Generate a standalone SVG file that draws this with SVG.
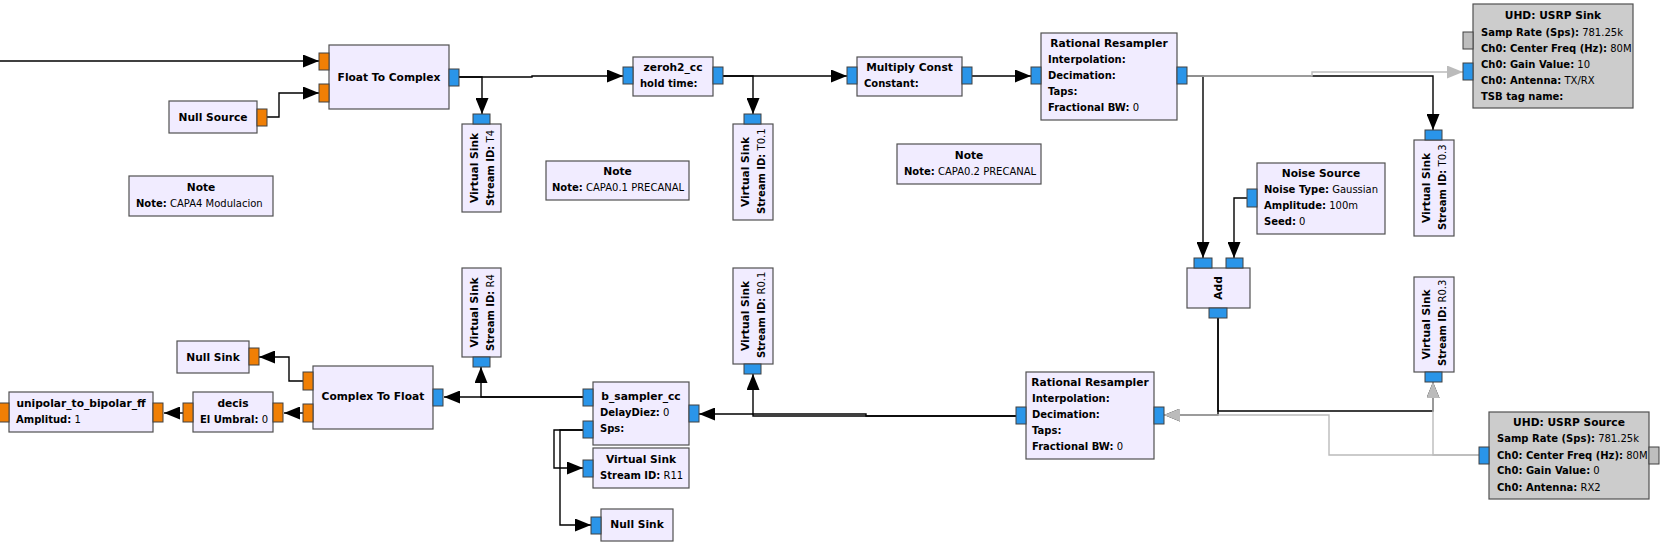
<svg xmlns="http://www.w3.org/2000/svg" width="1673" height="553" viewBox="0 0 1673 553">
<style>
.b{fill:#F1ECFF;stroke:#505050;stroke-width:1.2}
.g{fill:#CCCCCC;stroke:#505050;stroke-width:1.2}
.pc{fill:#2A95E9;stroke:#404040;stroke-width:1}
.pf{fill:#F07F05;stroke:#404040;stroke-width:1}
.pg{fill:#BEBEBE;stroke:#404040;stroke-width:1}
text{font-family:"DejaVu Sans","Liberation Sans",sans-serif;font-size:10px;fill:#000}
.t{font-weight:bold}
.h{font-weight:bold;font-size:10.67px}
.c{text-anchor:middle}
.k{fill:none;stroke:#000;stroke-width:1.4}
.y{fill:none;stroke:#BBBBBB;stroke-width:1.4}
</style>
<defs>
<marker id="ak" markerUnits="userSpaceOnUse" markerWidth="16" markerHeight="13" refX="16" refY="6.5" orient="auto"><path d="M0,0 L16,6.5 L0,13 z" fill="#000"/></marker>
<marker id="ag" markerUnits="userSpaceOnUse" markerWidth="16" markerHeight="13" refX="16" refY="6.5" orient="auto"><path d="M0,0 L16,6.5 L0,13 z" fill="#BBBBBB"/></marker>
</defs>
<rect width="1673" height="553" fill="#fff"/>

<g id="connectors">
<g marker-end="url(#ak)" class="k">
<path d="M0,61 H319"/>
<path d="M267,117 H279 V93 H319"/>
<path d="M459,77 H482 V114"/>
<path d="M459,77 H532 V76 H623"/>
<path d="M723,76 H753 V114"/>
<path d="M723,76 H847"/>
<path d="M972,76 H1031"/>
<path d="M1187,76 H1203 V258"/>
<path d="M1187,76 H1433 V130"/>
<path d="M1247,198 H1234 V258"/>
<path d="M1218,318 V415 H1164"/>
<path d="M1218,318 V411 H1433 V382"/>
<path d="M1016,416 H866 V414 H699"/>
<path d="M1016,416 H753 V374"/>
<path d="M583,397 H444"/>
<path d="M583,397 H481 V367"/>
<path d="M583,430 H554 V468 H583"/>
<path d="M583,430 H560 V525 H591"/>
<path d="M303,381 H289 V357 H259"/>
<path d="M303,413 H284"/>
<path d="M183,413 H164"/>
</g>
<g marker-end="url(#ag)" class="y">
<path d="M1187,76 H1312 V72 H1463"/>
<path d="M1479,455 H1329 V415 H1164"/>
<path d="M1479,455 H1433 V382"/>
</g>
</g>

<g id="float_to_complex">
<rect class="b" x="329" y="45" width="120" height="64"/>
<rect class="pf" x="319" y="53" width="10" height="17"/>
<rect class="pf" x="319" y="84" width="10" height="18"/>
<rect class="pc" x="449" y="69" width="10" height="17"/>
<text class="h c" x="389" y="81">Float To Complex</text>
</g>

<g id="null_source">
<rect class="b" x="169" y="101" width="88" height="32"/>
<rect class="pf" x="257" y="109" width="10" height="17"/>
<text class="h c" x="213" y="121">Null Source</text>
</g>

<g id="vs_t4">
<rect class="b" x="462" y="124" width="39" height="88"/>
<rect class="pc" x="473" y="114" width="17" height="10"/>
<text class="h c" transform="translate(477.5,168) rotate(-90)">Virtual Sink</text>
<text transform="translate(493.5,206) rotate(-90)"><tspan class="t">Stream ID:</tspan> T4</text>
</g>

<g id="note_capa4">
<rect class="b" x="129" y="176" width="144" height="40"/>
<text class="h c" x="201" y="191">Note</text>
<text x="136" y="207"><tspan class="t">Note:</tspan> CAPA4 Modulacion</text>
</g>

<g id="zeroh2_cc">
<rect class="b" x="633" y="57" width="80" height="39"/>
<rect class="pc" x="623" y="67" width="10" height="17"/>
<rect class="pc" x="713" y="67" width="10" height="17"/>
<text class="h c" x="673" y="71">zeroh2_cc</text>
<text class="t" x="640" y="87">hold time:</text>
</g>

<g id="vs_t01">
<rect class="b" x="733" y="124" width="40" height="96"/>
<rect class="pc" x="744" y="114" width="17" height="10"/>
<text class="h c" transform="translate(748.5,172) rotate(-90)">Virtual Sink</text>
<text transform="translate(764.5,214) rotate(-90)"><tspan class="t">Stream ID:</tspan> T0.1</text>
</g>

<g id="note_capa01">
<rect class="b" x="546" y="161" width="143" height="39"/>
<text class="h c" x="617.5" y="175">Note</text>
<text x="552" y="191"><tspan class="t">Note:</tspan> CAPA0.1 PRECANAL</text>
</g>

<g id="multiply_const">
<rect class="b" x="857" y="57" width="105" height="39"/>
<rect class="pc" x="847" y="67" width="10" height="17"/>
<rect class="pc" x="962" y="67" width="10" height="17"/>
<text class="h c" x="909.5" y="71">Multiply Const</text>
<text class="t" x="864" y="87">Constant:</text>
</g>

<g id="note_capa02">
<rect class="b" x="897" y="144" width="144" height="40"/>
<text class="h c" x="969" y="159">Note</text>
<text x="904" y="175"><tspan class="t">Note:</tspan> CAPA0.2 PRECANAL</text>
</g>

<g id="rational_resampler_1">
<rect class="b" x="1041" y="33" width="136" height="87"/>
<rect class="pc" x="1031" y="67" width="10" height="17"/>
<rect class="pc" x="1177" y="67" width="10" height="17"/>
<text class="h c" x="1109" y="47">Rational Resampler</text>
<text class="t" x="1048" y="63">Interpolation:</text>
<text class="t" x="1048" y="79">Decimation:</text>
<text class="t" x="1048" y="95">Taps:</text>
<text x="1048" y="111"><tspan class="t">Fractional BW:</tspan> 0</text>
</g>

<g id="usrp_sink">
<rect class="g" x="1473" y="4" width="160" height="104"/>
<rect class="pg" x="1463" y="32" width="10" height="17"/>
<rect class="pc" x="1463" y="63" width="10" height="17"/>
<text class="h c" x="1553" y="19">UHD: USRP Sink</text>
<text x="1481" y="36"><tspan class="t">Samp Rate (Sps):</tspan> 781.25k</text>
<text x="1481" y="51.5"><tspan class="t">Ch0: Center Freq (Hz):</tspan> 80M</text>
<text x="1481" y="67.5"><tspan class="t">Ch0: Gain Value:</tspan> 10</text>
<text x="1481" y="83.5"><tspan class="t">Ch0: Antenna:</tspan> TX/RX</text>
<text class="t" x="1481" y="99.5">TSB tag name:</text>
</g>

<g id="vs_t03">
<rect class="b" x="1414" y="140" width="40" height="96"/>
<rect class="pc" x="1425" y="130" width="17" height="10"/>
<text class="h c" transform="translate(1429.5,188) rotate(-90)">Virtual Sink</text>
<text transform="translate(1445.5,230) rotate(-90)"><tspan class="t">Stream ID:</tspan> T0.3</text>
</g>

<g id="noise_source">
<rect class="b" x="1257" y="163" width="128" height="71"/>
<rect class="pc" x="1247" y="189" width="10" height="18"/>
<text class="h c" x="1321" y="177">Noise Source</text>
<text x="1264" y="193"><tspan class="t">Noise Type:</tspan> Gaussian</text>
<text x="1264" y="209"><tspan class="t">Amplitude:</tspan> 100m</text>
<text x="1264" y="225"><tspan class="t">Seed:</tspan> 0</text>
</g>

<g id="add">
<rect class="b" x="1187" y="268" width="63" height="40"/>
<rect class="pc" x="1194" y="258" width="18" height="10"/>
<rect class="pc" x="1226" y="258" width="17" height="10"/>
<rect class="pc" x="1209" y="308" width="18" height="10"/>
<text class="h c" transform="translate(1222,288) rotate(-90)">Add</text>
</g>

<g id="vs_r03">
<rect class="b" x="1414" y="277" width="40" height="95"/>
<rect class="pc" x="1425" y="372" width="17" height="10"/>
<text class="h c" transform="translate(1429.5,324.5) rotate(-90)">Virtual Sink</text>
<text transform="translate(1445.5,366) rotate(-90)"><tspan class="t">Stream ID:</tspan> R0.3</text>
</g>

<g id="usrp_source">
<rect class="g" x="1489" y="412" width="160" height="87"/>
<rect class="pc" x="1479" y="447" width="10" height="17"/>
<rect class="pg" x="1649" y="447" width="10" height="17"/>
<text class="h c" x="1569" y="426">UHD: USRP Source</text>
<text x="1497" y="442"><tspan class="t">Samp Rate (Sps):</tspan> 781.25k</text>
<text x="1497" y="458.5"><tspan class="t">Ch0: Center Freq (Hz):</tspan> 80M</text>
<text x="1497" y="474"><tspan class="t">Ch0: Gain Value:</tspan> 0</text>
<text x="1497" y="490.5"><tspan class="t">Ch0: Antenna:</tspan> RX2</text>
</g>

<g id="rational_resampler_2">
<rect class="b" x="1026" y="372" width="128" height="87"/>
<rect class="pc" x="1016" y="407" width="10" height="17"/>
<rect class="pc" x="1154" y="407" width="10" height="17"/>
<text class="h c" x="1090" y="386">Rational Resampler</text>
<text class="t" x="1032" y="402">Interpolation:</text>
<text class="t" x="1032" y="418">Decimation:</text>
<text class="t" x="1032" y="434">Taps:</text>
<text x="1032" y="450"><tspan class="t">Fractional BW:</tspan> 0</text>
</g>

<g id="vs_r01">
<rect class="b" x="733" y="268" width="40" height="96"/>
<rect class="pc" x="744" y="364" width="17" height="10"/>
<text class="h c" transform="translate(748.5,316) rotate(-90)">Virtual Sink</text>
<text transform="translate(764.5,358) rotate(-90)"><tspan class="t">Stream ID:</tspan> R0.1</text>
</g>

<g id="b_sampler_cc">
<rect class="b" x="593" y="382" width="96" height="63"/>
<rect class="pc" x="583" y="389" width="10" height="17"/>
<rect class="pc" x="583" y="421" width="10" height="17"/>
<rect class="pc" x="689" y="405" width="10" height="17"/>
<text class="h c" x="641" y="400">b_sampler_cc</text>
<text x="600" y="416"><tspan class="t">DelayDiez:</tspan> 0</text>
<text class="t" x="600" y="432">Sps:</text>
</g>

<g id="vs_r11">
<rect class="b" x="593" y="448" width="96" height="40"/>
<rect class="pc" x="583" y="460" width="10" height="17"/>
<text class="h c" x="641" y="463">Virtual Sink</text>
<text x="600" y="479"><tspan class="t">Stream ID:</tspan> R11</text>
</g>

<g id="null_sink_2">
<rect class="b" x="601" y="509" width="72" height="32"/>
<rect class="pc" x="591" y="517" width="10" height="17"/>
<text class="h c" x="637" y="528">Null Sink</text>
</g>

<g id="vs_r4">
<rect class="b" x="462" y="268" width="39" height="89"/>
<rect class="pc" x="473" y="357" width="17" height="10"/>
<text class="h c" transform="translate(477.5,312.5) rotate(-90)">Virtual Sink</text>
<text transform="translate(493.5,351) rotate(-90)"><tspan class="t">Stream ID:</tspan> R4</text>
</g>

<g id="complex_to_float">
<rect class="b" x="313" y="366" width="120" height="63"/>
<rect class="pc" x="433" y="389" width="10" height="17"/>
<rect class="pf" x="303" y="372" width="10" height="18"/>
<rect class="pf" x="303" y="404" width="10" height="18"/>
<text class="h c" x="373" y="400">Complex To Float</text>
</g>

<g id="null_sink_1">
<rect class="b" x="177" y="341" width="72" height="32"/>
<rect class="pf" x="249" y="348" width="10" height="17"/>
<text class="h c" x="213" y="361">Null Sink</text>
</g>

<g id="decis">
<rect class="b" x="193" y="392" width="80" height="40"/>
<rect class="pf" x="273" y="403" width="10" height="19"/>
<rect class="pf" x="183" y="403" width="10" height="19"/>
<text class="h c" x="233" y="407">decis</text>
<text x="200" y="423"><tspan class="t">El Umbral:</tspan> 0</text>
</g>

<g id="unipolar_to_bipolar_ff">
<rect class="b" x="9" y="392" width="144" height="40"/>
<rect class="pf" x="153" y="403" width="10" height="19"/>
<rect class="pf" x="-1" y="403" width="10" height="19"/>
<text class="h c" x="81" y="407">unipolar_to_bipolar_ff</text>
<text x="16" y="423"><tspan class="t">Amplitud:</tspan> 1</text>
</g>
</svg>
